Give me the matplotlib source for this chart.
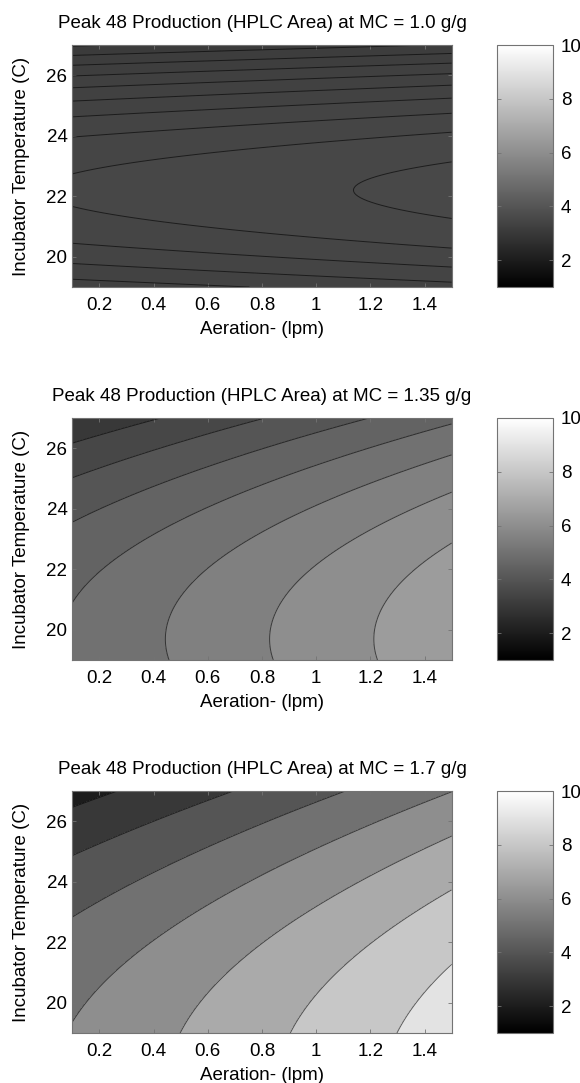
import numpy as np
import matplotlib
matplotlib.use("Agg")
import matplotlib.pyplot as plt
from matplotlib import cm
from matplotlib.colors import Normalize
from matplotlib.ticker import FormatStrFormatter

plt.rcParams['font.family'] = ['Liberation Sans', 'DejaVu Sans']
plt.rcParams['font.size'] = 13.5

# moisture content (g/g) of each slice
moisture = ["1.0", "1.35", "1.7"]

# quadratic response surface for peak 48 area, coded variables
# a = aeration - 0.8 (lpm), t = temperature - 23 (C)
# area = b0 + bA*a + bT*t + bAA*a^2 + bTT*t^2 + bAT*a*t
aeration_center = 0.8
temp_center = 23.0
coef_mc_100 = [3.524, 0.0432, -0.0286, 0.0, -0.0179, 0.0]
coef_mc_135 = [5.558, 1.30, -0.245, 0.0, -0.037, 0.0]
coef_mc_170 = [6.588, 2.44, -0.436, 0.10, -0.037, -0.010]

# contour levels used for each slice
levels_mc_100 = [3.0, 3.05, 3.1, 3.15, 3.2, 3.25, 3.3, 3.35, 3.4, 3.45, 3.5, 3.55, 3.6]
levels_mc_135 = [3.0, 3.5, 4.0, 4.5, 5.0, 5.5, 6.0, 6.5, 7.0]
levels_mc_170 = [2.0, 3.0, 4.0, 5.0, 6.0, 7.0, 8.0, 9.0, 10.0]

aeration_range = [0.1, 1.5]
temp_range = [19, 27]
x_ticks = [0.2, 0.4, 0.6, 0.8, 1.0, 1.2, 1.4]
y_ticks = [20, 22, 24, 26]
cbar_ticks = [2, 4, 6, 8, 10]
clim = (1, 10)

coefs = [coef_mc_100, coef_mc_135, coef_mc_170]
levels = [levels_mc_100, levels_mc_135, levels_mc_170]

W, H = 580, 1083


def px_rect(x0, y0, w, h):
    return [x0 / W, 1 - (y0 + h) / H, w / W, h / H]


def surface(c, A, T):
    a = A - aeration_center
    t = T - temp_center
    return c[0] + c[1] * a + c[2] * t + c[3] * a ** 2 + c[4] * t ** 2 + c[5] * a * t


A, T = np.meshgrid(np.linspace(*aeration_range, 141), np.linspace(*temp_range, 161))
norm = Normalize(*clim)
frame = '0.45'

fig = plt.figure(figsize=(W / 100, H / 100), dpi=100)

for i, top in enumerate([45, 418, 791]):
    ax = fig.add_axes(px_rect(72.3, top, 379.4, 242))
    Z = surface(coefs[i], A, T)
    lv = levels[i]
    # each band takes the grey of its lower level
    band_colors = [cm.gray(norm(v)) for v in lv[:-1]]
    ax.contourf(A, T, Z, levels=lv, colors=band_colors)
    ax.contour(A, T, Z, levels=lv, colors='k', linewidths=0.7, alpha=0.6)

    ax.set_xlim(aeration_range)
    ax.set_ylim(temp_range)
    ax.set_xticks(x_ticks)
    ax.set_yticks(y_ticks)
    ax.xaxis.set_major_formatter(FormatStrFormatter('%g'))
    ax.tick_params(direction='in', top=True, right=True, length=3,
                   width=0.6, color=frame)
    ax.tick_params(axis='x', pad=7)
    ax.tick_params(axis='y', pad=3.5)
    for s in ax.spines.values():
        s.set_color(frame)
        s.set_linewidth(0.8)

    ax.set_title(f"Peak 48 Production (HPLC Area) at MC = {moisture[i]} g/g",
                 fontsize=13.5, pad=12)
    ax.set_xlabel("Aeration- (lpm)", labelpad=5)
    ax.set_ylabel("Incubator Temperature (C)", labelpad=12)

    cax = fig.add_axes(px_rect(497.3, top, 55.4, 242))
    cb = fig.colorbar(cm.ScalarMappable(norm=norm, cmap='gray'), cax=cax)
    cb.set_ticks(cbar_ticks)
    cb.outline.set_edgecolor(frame)
    cb.outline.set_linewidth(0.8)
    cax.tick_params(direction='in', left=True, right=True, length=3,
                    width=0.6, color=frame, pad=6)

fig.savefig("out.png", dpi=100)
